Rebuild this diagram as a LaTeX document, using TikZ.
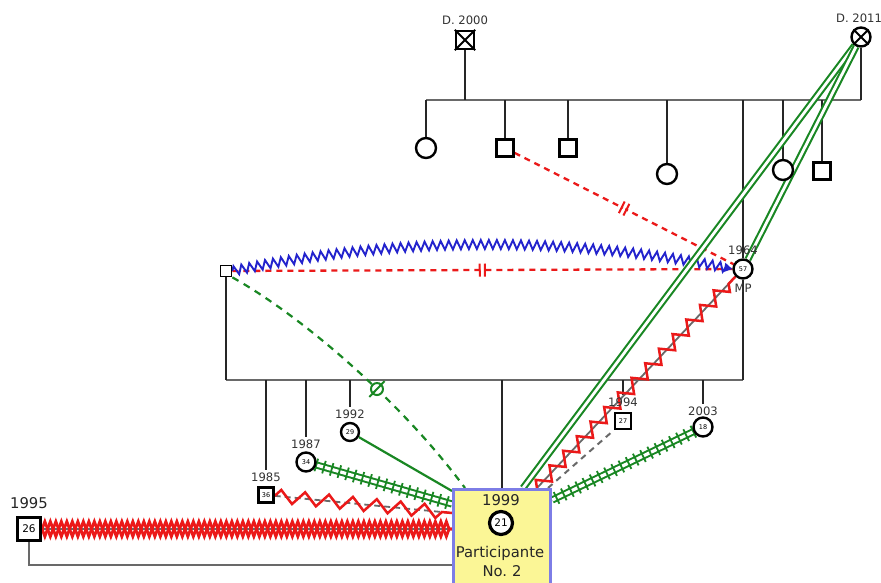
\documentclass[tikz,border=0pt]{standalone}
\usepackage{fontspec}
\setmainfont{DejaVu Sans}
\usetikzlibrary{decorations.pathmorphing,decorations.pathreplacing,decorations.markings,arrows.meta}
\definecolor{grn}{RGB}{25,135,35}
\definecolor{rd}{RGB}{235,25,25}
\definecolor{blu}{RGB}{35,35,205}
\definecolor{boxy}{RGB}{251,246,150}
\definecolor{boxb}{RGB}{125,125,230}
\definecolor{gln}{RGB}{105,105,105}
\pgfdeclarelayer{bg}
\pgfsetlayers{bg,main}
\begin{document}
\begin{tikzpicture}[x=1pt,y=-1pt,
 vl/.style={draw=black!85,line width=2pt},
 hl/.style={draw=gln,line width=2.3pt},
 sqr/.style={rectangle,draw=black,line width=2.4pt,fill=white,minimum size=17pt,inner sep=0pt},
 cir/.style={circle,draw=black,line width=2.4pt,fill=white,minimum size=19pt,inner sep=0pt},
 yr/.style={font=\fontsize{11.6}{12}\selectfont,text=black!80,inner sep=0pt},
 big/.style={font=\fontsize{14.8}{15}\selectfont,text=black!85,inner sep=0pt},
 rdash/.style={draw=rd,line width=2.3pt,dash pattern=on 6pt off 5pt},
 dblhash/.style={postaction={decorate,decoration={markings,mark=at position #1 with {\fill[white] (-1.2pt,-4pt) rectangle (1.2pt,4pt);\draw[solid,line width=2pt] (-2.6pt,-6.5pt)--(-2.6pt,6.5pt) (2.6pt,-6.5pt)--(2.6pt,6.5pt);}}}},
 ohash/.style={postaction={decorate,decoration={markings,mark=at position #1 with {\draw[solid,line width=2pt,fill=white] (0pt,0pt) circle (6pt); \draw[solid,line width=2pt] (0pt,-11pt)--(0pt,11pt);}}}},
 gdbl/.style={draw=grn,line width=2.1pt,double=white,double distance=2.8pt},
 trk/.style={draw=grn,line width=2pt,double=white,double distance=3.2pt},
 tks/.style={draw=grn,line width=1.8pt,decorate,decoration={ticks,segment length=8pt,amplitude=6.5pt}},
 zz/.style={draw=rd,line width=2.5pt,decorate,decoration={zigzag,segment length=#1,amplitude=6.5pt}},
 chain/.style={draw=rd,line width=2.8pt,decorate,decoration={zigzag,segment length=11pt,amplitude=#1}}
]
\useasboundingbox (0,0) rectangle (881,582);
% grandparents
\node[sqr,minimum size=18pt] (gf) at (465,40) {};
\draw[line width=2pt] (gf.north west)--(gf.south east) (gf.north east)--(gf.south west);
\node[yr] (lgf) at (465,20) {D. 2000};
\node[cir] (gm) at (861,37) {};
\draw[line width=2pt] (gm.45)--(gm.225) (gm.135)--(gm.315);
\node[yr] (lgm) at (859,18) {D. 2011};
% their children
\node[cir,minimum size=20pt] (c1) at (426,148) {};
\node[sqr] (c2) at (505,148) {};
\node[sqr] (c3) at (568,148) {};
\node[cir,minimum size=20pt] (c4) at (667,174) {};
\node[cir,minimum size=20pt] (c6) at (783,170) {};
\node[sqr] (c7) at (822,171) {};
\node[cir] (m) at (743,269) {\fontsize{6.5}{6.5}\selectfont 57};
\node[yr] (lm) at (743,250) {1964};
\node[yr] (mp) at (743,288) {MP};
\node[sqr,minimum size=11pt,line width=1.8pt] (sp) at (226,271) {};
% grandchildren
\node[sqr,minimum size=15pt] (k85) at (266,495) {\fontsize{6.5}{6.5}\selectfont 36};
\node[yr] (l85) at (266,477) {1985};
\node[cir] (k87) at (306,462) {\fontsize{6.5}{6.5}\selectfont 34};
\node[yr] (l87) at (306,444) {1987};
\node[cir,minimum size=18pt] (k92) at (350,432) {\fontsize{6.5}{6.5}\selectfont 29};
\node[yr] (l92) at (350,414) {1992};
\node[sqr,minimum size=16pt] (k94) at (623,421) {\fontsize{6.5}{6.5}\selectfont 27};
\node[yr] (l94) at (623,402) {1994};
\node[cir] (k03) at (703,427) {\fontsize{6.5}{6.5}\selectfont 18};
\node[yr] (l03) at (703,411) {2003};
\node[sqr,minimum size=23pt,line width=3.2pt] (p26) at (29,529) {\fontsize{10.5}{10.5}\selectfont 26};
\node[big] (l26) at (29,503) {1995};
% participant
\node[draw=boxb,fill=boxy,line width=3.2pt,minimum width=97pt,minimum height=120pt,anchor=north west,inner sep=0pt] (box) at (452,488) {};
\node[big] (l99) at (501,500) {1999};
\node[cir,minimum size=23pt,line width=3.2pt] (p21) at (501,523) {\fontsize{10.5}{10.5}\selectfont 21};
\node[big] (pt1) at (500,553) {Participante};
\node[big] (pt2) at (502,571) {No.\,\,2};

\begin{pgfonlayer}{bg}
\fill[white] (0,0) rectangle (881,582);
\coordinate (sib) at (0,100);
\coordinate (mar) at (0,380);
\coordinate (bot) at (0,565);
\draw[hl] (c1 |- sib) -- (gm |- sib);
\draw[vl] (gf.south) -- (gf |- sib);
\draw[vl] (gm.south) -- (gm |- sib);
\foreach \n in {c1,c2,c3,c4,c6,c7} \draw[vl] (\n |- sib) -- (\n.north);
\draw[vl] (m |- sib) -- (m.north);
\draw[hl] (sp |- mar) -- (m |- mar);
\draw[vl] (sp.south) -- (sp |- mar);
\draw[vl] (m.south) -- (m |- mar);
\foreach \n/\l in {k85/l85,k87/l87,k92/l92,k94/l94,k03/l03} \draw[vl] (\n |- mar) -- ([yshift=2pt]\n |- \l.north);
\draw[vl] (box.north |- mar) -- (box.north);
\draw[hl] (p26.south) -- (p26 |- bot) -- (box.west |- bot);
% relationships
\draw[rdash,dblhash=0.5] (c2) -- (m);
\draw[rdash,dblhash=0.5] (sp) -- (m);
\draw[blu,line width=1.9pt,decorate,decoration={zigzag,segment length=8pt,amplitude=4.5pt,post=lineto,post length=5pt},-{Triangle[open,length=8pt,width=9pt]}] (sp.east) .. controls (400,236) and (570,236) .. (m.west);
\draw[grn,line width=2.2pt,dash pattern=on 7pt off 6pt,ohash=0.58] (sp.south east) .. controls (300,315) and (400,400) .. ([xshift=13pt]box.north west);
\draw[gdbl] (gm) -- ([xshift=71pt]box.north west);
\draw[gdbl] (gm) -- (m);
\draw[gln,line width=1.8pt] ([xshift=85pt]box.north west) -- (m.south west);
\draw[zz=20pt] ([xshift=85pt]box.north west) -- (m.south west);
\draw[gln,line width=2pt,dash pattern=on 6pt off 5pt] ([xshift=96pt]box.north west) -- (k94.south west);
\draw[trk] (k03) -- ([yshift=-12pt]box.north east);
\draw[tks] (k03) -- ([yshift=-12pt]box.north east);
\draw[trk] (k87) -- ([yshift=-16pt]box.north west);
\draw[tks] (k87) -- ([yshift=-16pt]box.north west);
\draw[grn,line width=2.2pt] (k92) -- ([yshift=-3pt]box.north west);
\draw[gln,line width=1.8pt,dash pattern=on 6pt off 4pt] (k85) -- ([yshift=-25pt]box.north west);
\draw[zz=24pt] (k85) -- ([yshift=-25pt]box.north west);
\draw[gln,line width=2.4pt] (p26) -- (box.west |- p26);
\draw[chain=7.5pt] (p26) -- (box.west |- p26);
\draw[chain=-7.5pt] (p26) -- (box.west |- p26);
\end{pgfonlayer}
\end{tikzpicture}
\end{document}
